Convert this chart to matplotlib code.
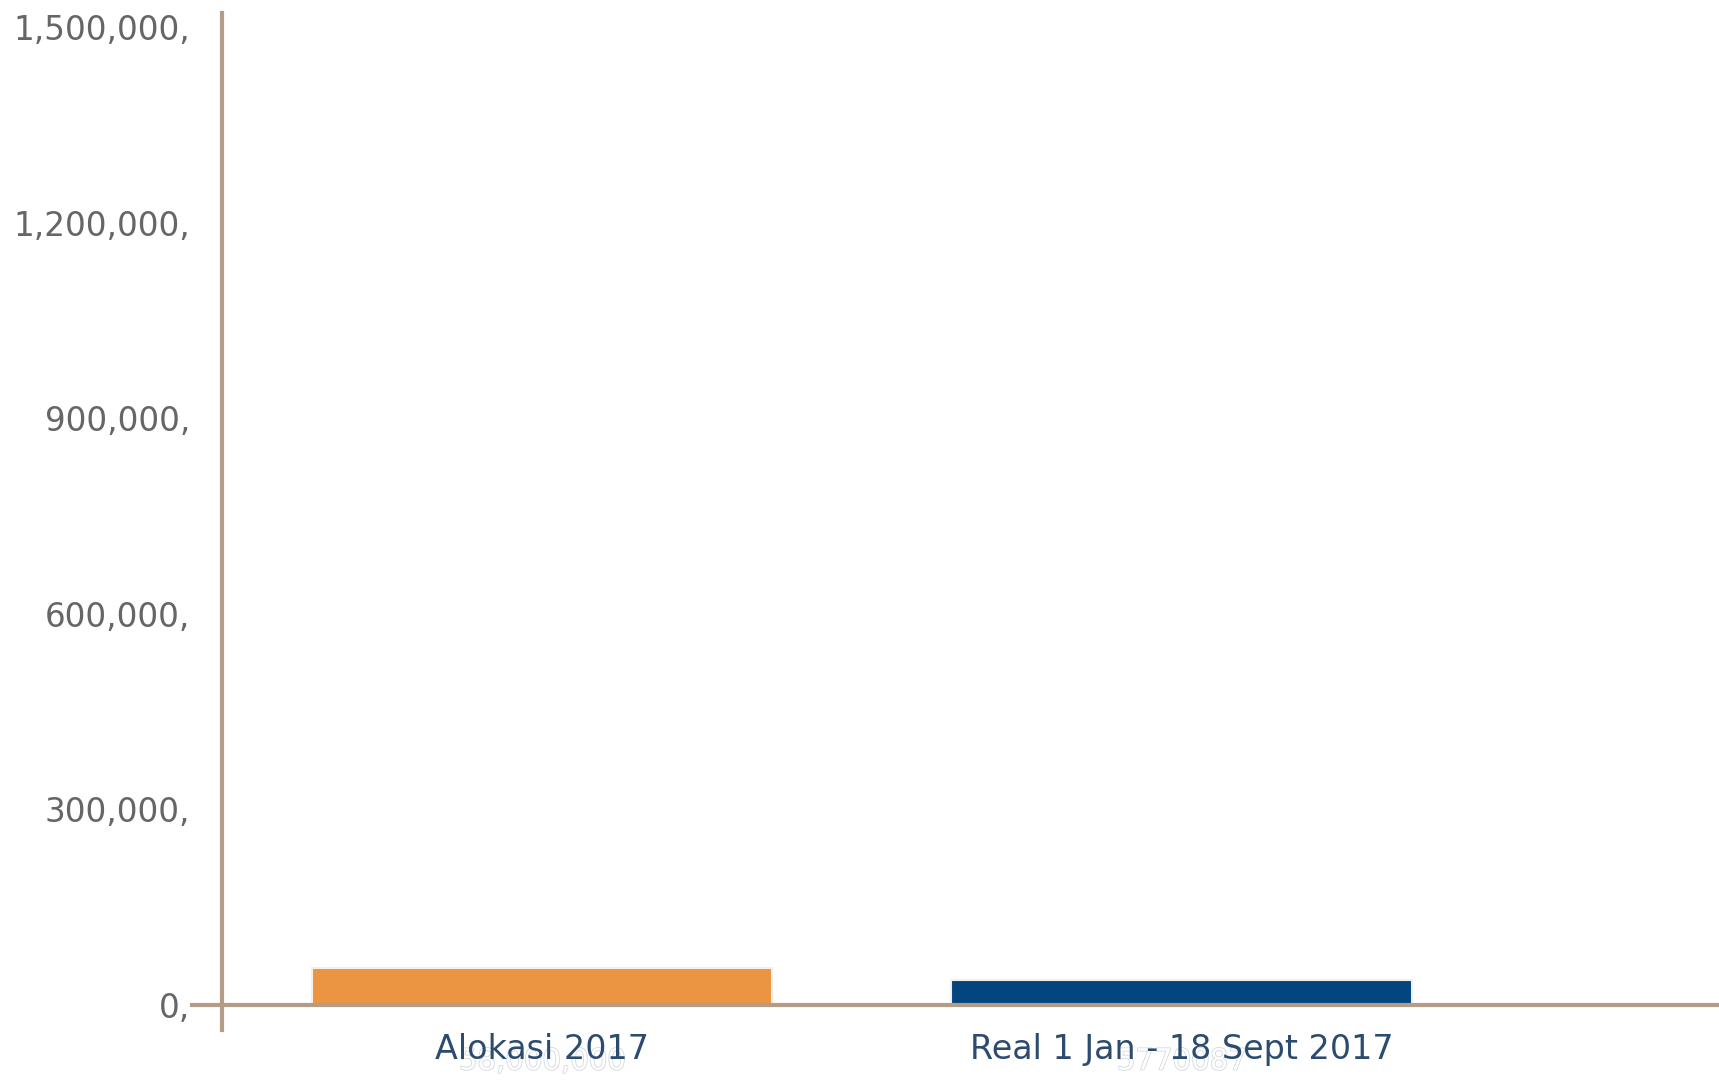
import numpy as np
import matplotlib.pyplot as plt
import matplotlib.patheffects as pe

categories = ["Alokasi 2017", "Real 1 Jan - 18 Sept 2017"]
values = [56500, 38000]
value_labels = ["58,000,000", "5770087"]
bar_colors = ["#EB9441", "#03457E"]
yticks = [0, 300000, 600000, 900000, 1200000, 1500000]

fig = plt.figure(figsize=(17.19, 10.89), dpi=100)
ax = fig.add_axes([222 / 1719, 1 - 1030 / 1089, 1 - 222 / 1719, (1030 - 13) / 1089])

x = np.arange(len(categories))
ax.bar(x, values, width=0.72, color=bar_colors, edgecolor="#f4efe9", linewidth=1.5, zorder=2)

ax.set_xlim(-0.5, 1.84)
ax.set_ylim(-38350, 1521500)

spine_col = "#B59C87"
for s in ["top", "right", "bottom"]:
    ax.spines[s].set_visible(False)
ax.spines["left"].set_color(spine_col)
ax.spines["left"].set_linewidth(3)

# x-axis line at zero, with a short stub left of the spine
ax.axhline(0, xmin=-0.02, xmax=1, color=spine_col, linewidth=3, clip_on=False, zorder=3)

ax.set_yticks(yticks)
ax.set_yticklabels([f"{v:,}," for v in yticks], fontsize=23.5, color="#666666")
ax.tick_params(axis="y", length=0, pad=23)

ax.set_xticks([])
for xi, cat, lab in zip(x, categories, value_labels):
    ax.text(xi, -0.031, lab, transform=ax.get_xaxis_transform(), ha="center", va="center",
            fontsize=21, color="white",
            path_effects=[pe.withStroke(linewidth=1.2, foreground="#d3d9df")])
    ax.text(xi, -0.0187, cat, transform=ax.get_xaxis_transform(), ha="center", va="center",
            fontsize=24, color="#2B4C6F")

fig.savefig("out.png", dpi=100)
